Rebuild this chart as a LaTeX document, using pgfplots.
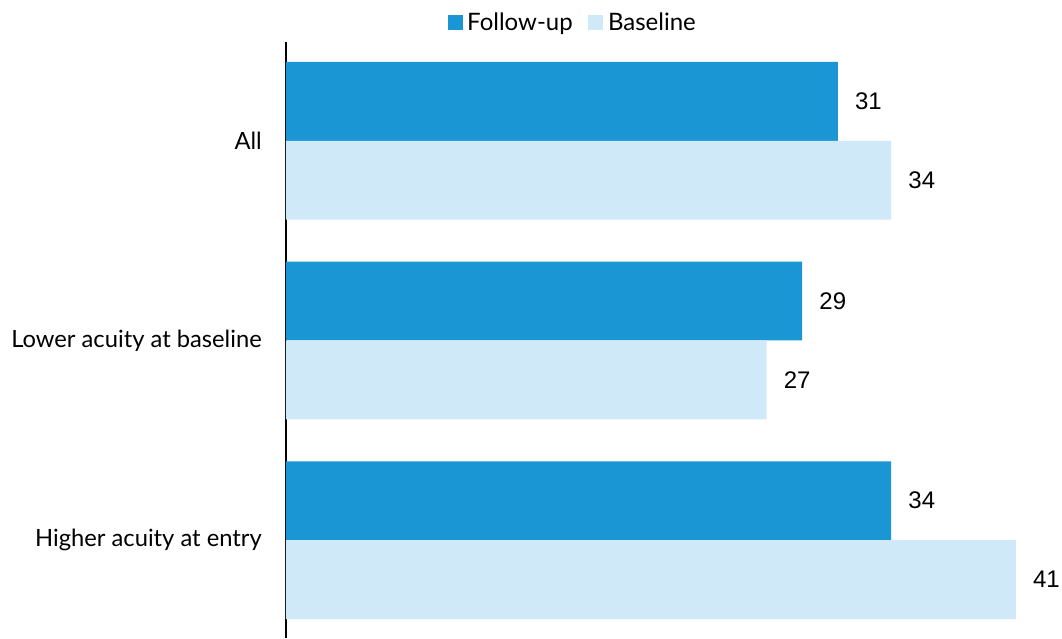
\documentclass[border=0pt]{standalone}
\usepackage{pgfplots}
\pgfplotsset{compat=1.18}
\usepackage{fontspec}
\setmainfont{Lato}
\newfontfamily\numfont{Liberation Sans}
\definecolor{followup}{HTML}{1A96D4}
\definecolor{baseline}{HTML}{CFE9F9}
\newlength{\px}
\setlength{\px}{0.75pt}
\begin{document}
\begin{tikzpicture}
\begin{axis}[
  name=ax,
  scale only axis,
  width=765.4\px, height=596\px,
  xmin=0, xmax=43,
  ymin=-0.49, ymax=2.495,
  axis x line=none,
  axis y line*=left,
  y axis line style={line width=2.5\px, black},
  ytick={0,1,2},
  yticklabels={Higher acuity at entry, Lower acuity at baseline, All},
  major tick length=0pt,
  yticklabel style={font=\fontsize{17.8}{20}\selectfont, inner sep=0pt, xshift=-24\px},
  xbar,
  bar width=0.395,
  nodes near coords={\pgfmathprintnumber[assume math mode=true]{\pgfplotspointmeta}},
  nodes near coords style={font=\numfont\fontsize{18}{20}\selectfont, anchor=west, inner sep=0pt, xshift=17\px, text=black},
  legend columns=2,
  legend style={draw=none, fill=none, at={(rel axis cs:0.375,1)}, anchor=south, yshift=7\px,
    font=\fontsize{18}{20}\selectfont, inner sep=0pt,
    /tikz/every even column/.append style={column sep=13\px}},
  legend cell align=left,
  legend image code/.code={\fill[#1] (0,-7.5\px) rectangle (15\px,7.5\px);},
  clip=false,
]
\addplot[draw=none, fill=followup, bar shift=0.1975] coordinates {(34,0) (29,1) (31,2)};
\addplot[draw=none, fill=baseline, bar shift=-0.1975] coordinates {(41,0) (27,1) (34,2)};
\legend{\hspace{2\px}Follow-up, \hspace{2\px}Baseline}
\end{axis}
\pgfresetboundingbox
\path[use as bounding box] ([xshift=-286\px]ax.south west) rectangle ++(1062\px,638\px);
\end{tikzpicture}
\end{document}
